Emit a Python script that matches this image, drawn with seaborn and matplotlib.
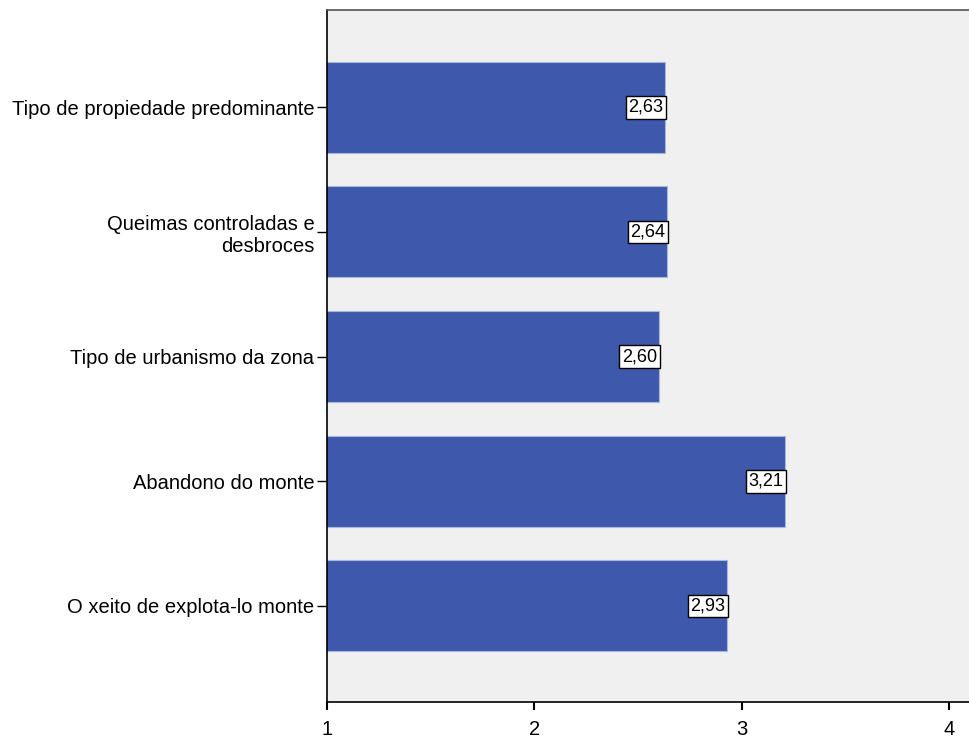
import matplotlib
matplotlib.use("Agg")
import matplotlib.pyplot as plt
import seaborn as sns
import pandas as pd

categories = [
    "Tipo de propiedade predominante",
    "Queimas controladas e\ndesbroces",
    "Tipo de urbanismo da zona",
    "Abandono do monte",
    "O xeito de explota-lo monte",
]
means = [2.63, 2.64, 2.60, 3.21, 2.93]
xticks = [1, 2, 3, 4]

df = pd.DataFrame({"cat": categories, "mean": means})

sns.set_style("white")
plt.rcParams["font.family"] = ["Liberation Sans", "DejaVu Sans"]
plt.rcParams["text.color"] = "black"
plt.rcParams["xtick.color"] = "black"
plt.rcParams["ytick.color"] = "black"

fig = plt.figure(figsize=(9.7, 7.4), dpi=100)
ax = fig.add_axes([0.337, 0.0514, 0.663, 0.935])
ax.set_facecolor("#F0F0F0")

sns.barplot(data=df, x="mean", y="cat", color="#3E58AC", saturation=1,
            width=0.73, edgecolor="#A9B7E0", linewidth=0.8, ax=ax)

# value labels in small white boxes at the bar ends
for i, v in enumerate(means):
    ax.text(v - 0.008, i, f"{v:.2f}".replace(".", ","), ha="right", va="center",
            fontsize=13, color="black",
            bbox=dict(boxstyle="square,pad=0.15", fc="white", ec="black", lw=1))

ax.set_xlim(1, 4.1)
ax.set_ylim(4.77, -0.78)
ax.set_xticks(xticks)
ax.set_xlabel("")
ax.set_ylabel("")

for s in ["top", "left", "bottom"]:
    ax.spines[s].set_visible(True)
    ax.spines[s].set_color("black")
    ax.spines[s].set_linewidth(1.2)
ax.spines["right"].set_visible(False)
ax.spines["top"].set_color("#555555")

ax.tick_params(axis="y", length=7, width=1, labelsize=14.5, pad=2, left=True)
ax.tick_params(axis="x", length=6, width=1.5, labelsize=14.5, pad=7, bottom=True)
for lab in ax.get_yticklabels():
    lab.set_multialignment("right")

fig.savefig("out.png", dpi=100)
